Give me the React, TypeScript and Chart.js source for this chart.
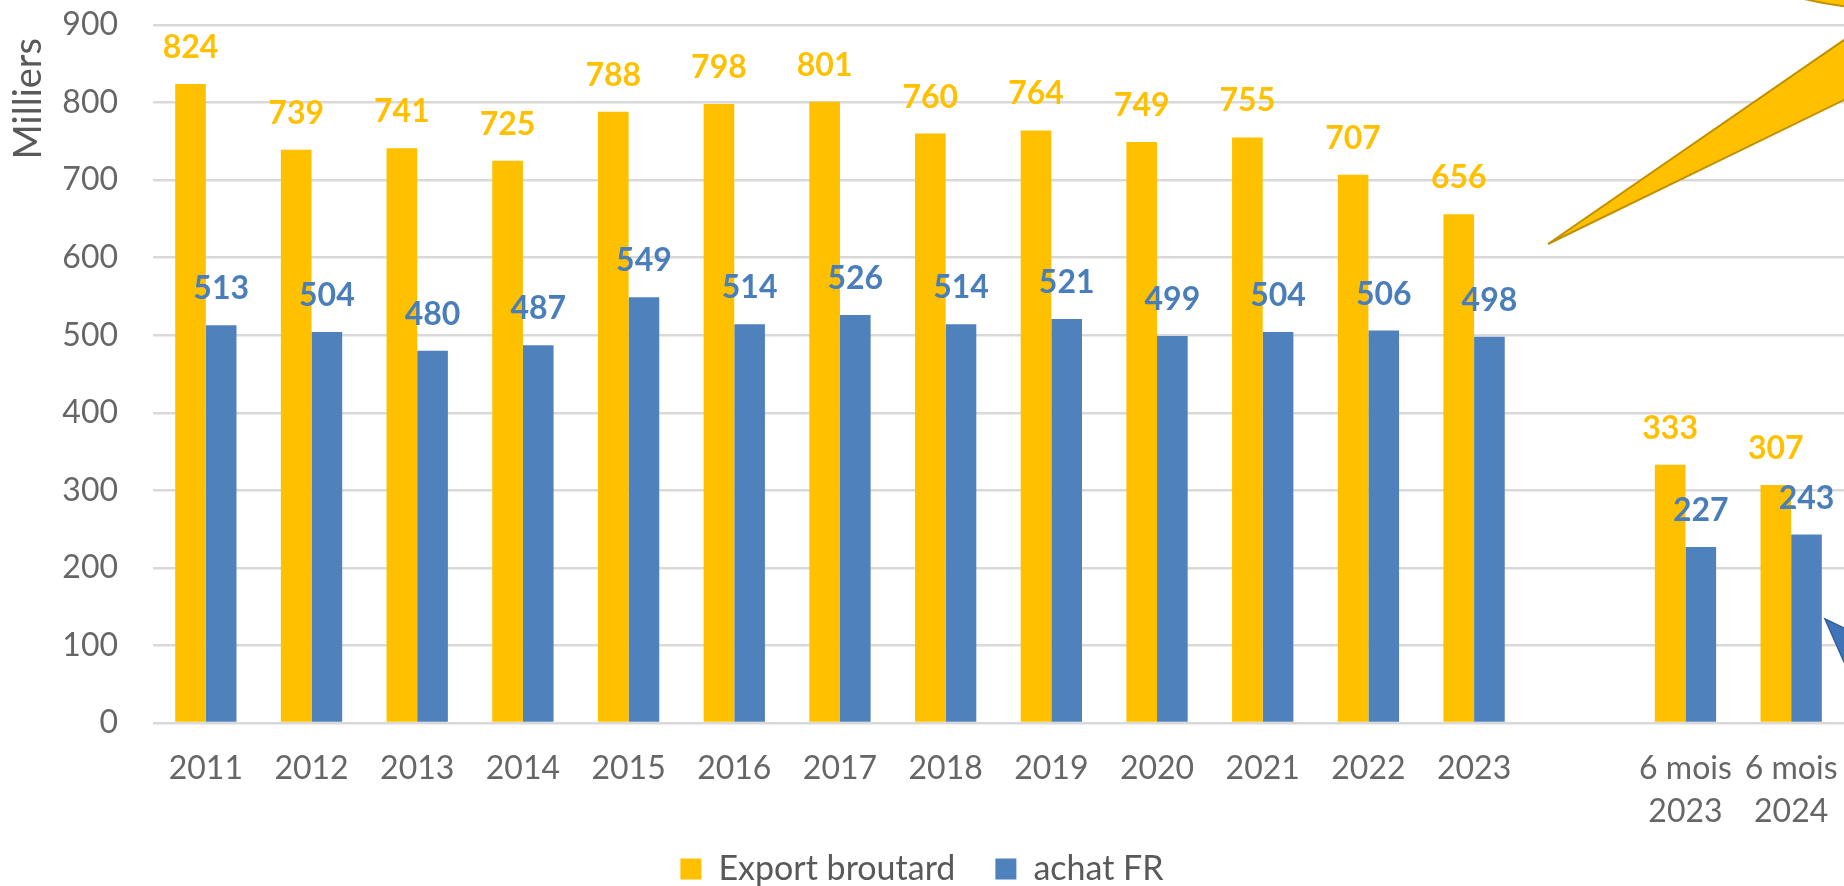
import React, { useEffect, useRef } from "react";
import { Chart, registerables } from "chart.js";

Chart.register(...registerables);

const categories: (string | string[])[] = [
  "2011", "2012", "2013", "2014", "2015", "2016", "2017", "2018", "2019",
  "2020", "2021", "2022", "2023", "", ["6 mois", "2023"], ["6 mois", "2024"],
];
const exportBroutard: (number | null)[] = [
  824, 739, 741, 725, 788, 798, 801, 760, 764, 749, 755, 707, 656, null, 333, 307,
];
const achatFR: (number | null)[] = [
  513, 504, 480, 487, 549, 514, 526, 514, 521, 499, 504, 506, 498, null, 227, 243,
];
const yTicks = [0, 100, 200, 300, 400, 500, 600, 700, 800, 900];

const YELLOW = "#FFC000";
const BLUE = "#4F81BD";
const FONT = "Lato";

const dataLabelPlugin = {
  id: "dataLabels",
  afterDatasetsDraw(chart: any) {
    const ctx = chart.ctx;
    ctx.save();
    ctx.font = `bold 32px ${FONT}`;
    ctx.textAlign = "center";
    ctx.textBaseline = "alphabetic";
    chart.data.datasets.forEach((ds: any, i: number) => {
      const meta = chart.getDatasetMeta(i);
      ctx.fillStyle = i === 0 ? YELLOW : "#4A7EBB";
      meta.data.forEach((el: any, j: number) => {
        const v = ds.data[j];
        if (v == null) return;
        ctx.fillText(String(v), el.x, el.y - 26);
      });
    });
    ctx.restore();
  },
};

const decorPlugin = {
  id: "decor",
  afterDraw(chart: any) {
    const ctx = chart.ctx;
    const W = chart.width;
    ctx.save();
    // y axis title
    ctx.font = `38px ${FONT}`;
    ctx.fillStyle = "#595959";
    ctx.translate(29, 38);
    ctx.rotate(-Math.PI / 2);
    ctx.textAlign = "right";
    ctx.textBaseline = "middle";
    ctx.fillText("Milliers", 0, 0);
    ctx.restore();

    // yellow callout (partially visible)
    ctx.save();
    ctx.fillStyle = YELLOW;
    ctx.strokeStyle = "#BF9000";
    ctx.lineWidth = 2;
    ctx.beginPath();
    ctx.ellipse(1900, -200, 300, 210, 0, 0, Math.PI * 2);
    ctx.fill();
    ctx.stroke();
    ctx.beginPath();
    ctx.moveTo(1548, 244);
    ctx.lineTo(W + 40, 40 - 40 * (204 / 296));
    ctx.lineTo(W + 40, 100 - 40 * (144 / 296));
    ctx.closePath();
    ctx.fill();
    ctx.stroke();
    // blue arrow (partially visible)
    ctx.fillStyle = "#3F75B8";
    ctx.strokeStyle = "#2F5F9A";
    ctx.lineWidth = 1.5;
    ctx.beginPath();
    ctx.moveTo(1825, 619);
    ctx.lineTo(W + 20, 628 + 9 * (20 / 19));
    ctx.lineTo(W + 20, 662 + 43 * (20 / 19));
    ctx.closePath();
    ctx.fill();
    ctx.stroke();
    ctx.restore();
  },
};

export default function App() {
  const ref = useRef<HTMLCanvasElement | null>(null);
  useEffect(() => {
    if (!ref.current) return;
    Chart.defaults.font.family = FONT;
    const labels = categories.map((c) => (Array.isArray(c) ? c : [c, ""]));
    const chart = new Chart(ref.current, {
      type: "bar",
      data: {
        labels,
        datasets: [
          {
            label: "Export broutard",
            data: exportBroutard,
            backgroundColor: YELLOW,
            borderWidth: 0,
            categoryPercentage: 0.58,
            barPercentage: 1,
          },
          {
            label: "achat FR",
            data: achatFR,
            backgroundColor: BLUE,
            borderWidth: 0,
            categoryPercentage: 0.58,
            barPercentage: 1,
          },
        ],
      },
      options: {
        responsive: false,
        animation: false,
        devicePixelRatio: 1,
        layout: { padding: { top: 25, left: 0, right: 0, bottom: 0 } },
        plugins: {
          legend: {
            position: "bottom",
            labels: {
              boxWidth: 21,
              boxHeight: 21,
              padding: 40,
              color: "#595959",
              font: { size: 34, family: FONT },
            },
          },
          tooltip: { enabled: false },
        },
        scales: {
          x: {
            offset: true,
            grid: { display: false, drawTicks: false },
            border: { display: false },
            ticks: {
              color: "#666666",
              font: { size: 32, family: FONT, lineHeight: 1.35 },
              padding: 24,
              maxRotation: 0,
              autoSkip: false,
            },
            afterFit(scale: any) {
              scale.paddingLeft = 0;
              scale.paddingRight = 0;
              scale.height = 89;
              scale._computeLabelArea = () => undefined;
            },
          },
          y: {
            min: 0,
            max: 900,
            afterBuildTicks(scale: any) {
              scale.ticks = yTicks.map((v) => ({ value: v }));
            },
            grid: { color: "#D9D9D9", lineWidth: 2.5, drawTicks: false },
            border: { display: false },
            ticks: {
              color: "#666666",
              font: { size: 32, family: FONT },
              padding: 35,
            },
            afterFit(scale: any) {
              scale.width = 153;
              scale.paddingTop = 0;
              scale.paddingBottom = 0;
            },
          },
        },
      },
      plugins: [dataLabelPlugin, decorPlugin],
    } as any);
    return () => chart.destroy();
  }, []);
  return (
    <div style={{ position: "fixed", left: 0, top: 0, width: 1844, height: 886, overflow: "hidden", background: "#fff" }}>
      <canvas ref={ref} width={1844} height={896} style={{ width: 1844, height: 896, display: "block" }} />
    </div>
  );
}
